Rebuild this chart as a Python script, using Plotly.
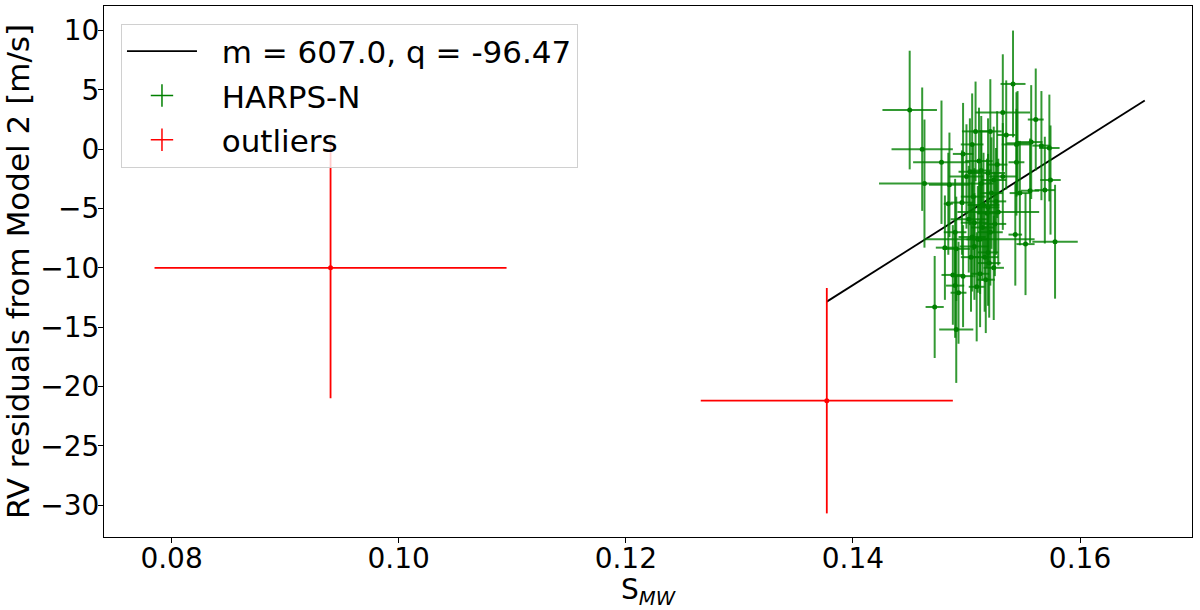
import plotly.graph_objects as go

# HARPS-N points: S_MW, RV residual, and their errors
harps_s = [0.1450, 0.1541, 0.1532, 0.1561, 0.1461, 0.1478, 0.1463, 0.1497, 0.1505, 0.1508,
           0.1521, 0.1535, 0.1544, 0.1557, 0.1566, 0.1573, 0.1544, 0.1574, 0.1485, 0.1532,
           0.1519, 0.1484, 0.1496, 0.1528, 0.1547, 0.1556, 0.1569, 0.1543, 0.1552, 0.1578,
           0.1490, 0.1491, 0.1488, 0.1497, 0.1490, 0.1493, 0.1472, 0.1491, 0.1507, 0.1510,
           0.1515, 0.1518, 0.1521, 0.1522, 0.1504, 0.1512, 0.1516, 0.1507, 0.1481, 0.1513,
           0.1509, 0.1502, 0.1525, 0.1519, 0.1500, 0.1527, 0.1511, 0.1524, 0.1512, 0.1503,
           0.1513, 0.1524, 0.1519, 0.1505, 0.1517, 0.1514, 0.1520, 0.1506, 0.1526, 0.1545]
harps_rv = [3.3, 5.5, 3.1, 2.5, 0.0, -1.1, -2.9, -0.4, 0.4, 1.5,
            1.5, 1.2, 0.4, 0.6, 0.3, 0.1, -1.1, -2.6, -3.0, -2.3,
            -2.0, -4.6, -4.5, -5.3, -3.7, -3.5, -3.45, -7.2, -8.0, -7.8,
            -7.0, -8.4, -10.6, -10.7, -11.5, -12.1, -13.3, -15.2, -6.2, -7.6,
            -4.7, -5.4, -7.0, -3.7, -9.1, -10.5, -9.1, -8.2, -8.3, -2.9,
            -11.6, -5.9, -6.3, -8.7, -2.3, -1.3, -1.0, -10.0, -7.6, -1.9,
            -1.8, -2.6, -4.9, -7.4, -11.0, -6.6, -9.6, -4.0, -4.4, 0.5]
harps_s_err = [0.0024, 0.0011, 0.0024, 0.0007, 0.0027, 0.0025, 0.0040, 0.0009, 0.0010, 0.0012,
               0.0010, 0.0008, 0.0013, 0.0010, 0.0008, 0.0009, 0.0007, 0.0009, 0.0018, 0.0012,
               0.0015, 0.0004, 0.0010, 0.0036, 0.0009, 0.0008, 0.0009, 0.0006, 0.0008, 0.0020,
               0.0010, 0.0012, 0.0010, 0.0009, 0.0008, 0.0007, 0.0008, 0.0015, 0.0012, 0.0010,
               0.0014, 0.0009, 0.0011, 0.0010, 0.0009, 0.0008, 0.0012, 0.0013, 0.0008, 0.0011,
               0.0007, 0.0016, 0.0010, 0.0009, 0.0015, 0.0009, 0.0012, 0.0009, 0.0048, 0.0010,
               0.0009, 0.0011, 0.0010, 0.0012, 0.0008, 0.0010, 0.0010, 0.0011, 0.0009, 0.0010]
harps_rv_err = [5.0, 4.5, 4.9, 4.3, 5.2, 5.2, 5.4, 4.3, 4.3, 4.2,
                4.4, 4.6, 4.4, 4.8, 4.6, 4.5, 4.5, 4.6, 4.4, 4.5,
                4.6, 4.3, 4.4, 4.5, 4.4, 4.4, 4.5, 4.3, 4.3, 4.8,
                4.5, 4.4, 4.2, 4.3, 4.4, 4.3, 4.3, 4.5, 4.6, 4.5,
                4.4, 4.6, 4.5, 4.7, 4.6, 4.5, 4.6, 4.5, 4.4, 4.5,
                4.6, 4.5, 4.4, 4.5, 4.4, 4.5, 4.5, 4.4, 4.6, 4.5,
                4.6, 4.5, 4.5, 4.6, 4.5, 4.5, 4.6, 4.5, 4.5, 4.4]

# outliers
out_s = [0.0940, 0.1377]
out_rv = [-10.0, -21.2]
out_s_err = [0.0155, 0.0111]
out_rv_err = [11.0, 9.5]

# linear fit endpoints
fit_s = [0.1377, 0.1657]
fit_rv = [-12.85, 4.11]
fit_label = "m = 607.0, q = -96.47"

FONT = "DejaVu Sans"
GREEN_BAR = "rgba(0,128,0,0.8)"
PAD = "\u00a0\u00a0"  # extra gap between legend handle and text

fig = go.Figure()

fig.add_trace(go.Scatter(
    x=fit_s, y=fit_rv, mode="lines", name=PAD + fit_label, legendgroup="fit",
    line=dict(color="black", width=1.8)
))

fig.add_trace(go.Scatter(
    x=harps_s, y=harps_rv, mode="markers", showlegend=False,
    marker=dict(color="green", size=5),
    error_x=dict(type="data", array=harps_s_err, color=GREEN_BAR, thickness=2, width=0),
    error_y=dict(type="data", array=harps_rv_err, color=GREEN_BAR, thickness=2, width=0),
))

fig.add_trace(go.Scatter(
    x=out_s, y=out_rv, mode="markers", showlegend=False,
    marker=dict(color="red", size=5),
    error_x=dict(type="data", array=out_s_err, color="red", thickness=1.8, width=0),
    error_y=dict(type="data", array=out_rv_err, color="red", thickness=1.8, width=0),
))

# legend entries drawn as crosses, like errorbar handles
for name, col in [("HARPS-N", "green"), ("outliers", "red")]:
    fig.add_trace(go.Scatter(
        x=[None], y=[None], mode="markers", name=PAD + name, legendgroup=name,
        marker=dict(symbol="cross-thin", size=16, line=dict(color=col, width=1.5))
    ))

axis_common = dict(
    showline=True, linecolor="black", linewidth=1, mirror=True, automargin=False,
    ticks="outside", ticklen=5, tickcolor="black", showgrid=False, zeroline=False,
    tickfont=dict(family=FONT, size=28, color="black"),
)

fig.update_layout(
    width=1200, height=610,
    margin=dict(l=104, r=8, t=6, b=73),
    plot_bgcolor="white", paper_bgcolor="white",
    font=dict(family=FONT, color="black"),
    xaxis=dict(range=[0.07405, 0.16986], tickvals=[0.08, 0.10, 0.12, 0.14, 0.16],
               ticktext=["0.08", "0.10", "0.12", "0.14", "0.16"], ticklabelstandoff=-9,
               title=dict(text="S<sub><i>MW</i></sub>", font=dict(size=28)),
               **axis_common),
    yaxis=dict(range=[-32.69, 12.07], tickvals=[10, 5, 0, -5, -10, -15, -20, -25, -30],
               ticklabelstandoff=-7,
               title=dict(text="RV residuals from Model 2 [m/s]", font=dict(size=31)),
               **axis_common),
    legend=dict(x=0.0156, y=0.967, xanchor="left", yanchor="top",
                bgcolor="rgba(255,255,255,0.8)", bordercolor="#d0d0d0", borderwidth=1,
                font=dict(family=FONT, size=31), itemwidth=70, tracegroupgap=1),
)

# drop the default page margin so the figure sits at the window's corner
fig.write_html("out.html", config={"displayModeBar": False},
               post_script="document.body.style.margin='0';")
